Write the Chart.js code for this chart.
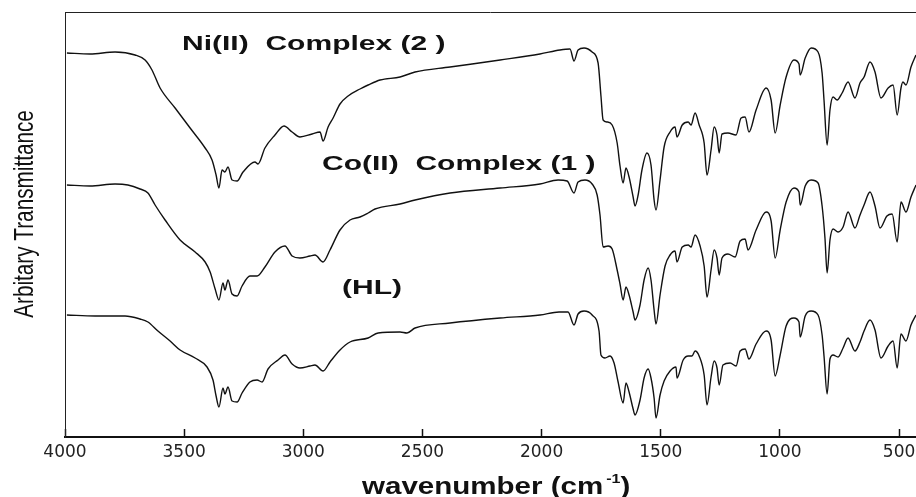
<!DOCTYPE html>
<html>
<head>
<meta charset="utf-8">
<script src="https://cdn.jsdelivr.net/npm/chart.js@4.4.1/dist/chart.umd.min.js"></script>
<style>
  html, body { margin: 0; padding: 0; background: #fff; }
  #wrap { width: 916px; height: 497px; position: relative; }
</style>
</head>
<body>
<div id="wrap"><canvas id="irChart"></canvas></div>
<script>
// x ticks (cm-1)
const tickValues = [4000, 3500, 3000, 2500, 2000, 1500, 1000, 500];
const seriesLabels = ["Ni(II)  Complex (2 )", "Co(II)  Complex (1 )", "(HL)"];

// Ni(II) complex (2) - top trace
const niWavenumber = [3992,3895,3790,3706,3664,3635,3601,3538,3475,3412,3383,3366,3354,3341,3329,3316,3299,3278,3253,3203,3190,3161,3119,3081,3047,3014,2963,2930,2917,2896,2875,2846,2812,2762,2728,2678,2594,2531,2384,2174,2007,1923,1881,1864,1847,1822,1788,1763,1751,1742,1725,1704,1683,1671,1658,1646,1633,1616,1608,1595,1579,1558,1541,1528,1520,1503,1486,1461,1440,1432,1410,1385,1373,1356,1339,1318,1306,1289,1276,1264,1255,1243,1218,1184,1163,1146,1130,1100,1058,1037,1020,999,974,941,920,915,894,869,840,823,815,802,790,777,760,739,714,685,664,647,622,601,576,546,525,508,492,484,471,450,429];
const niSignal = [384,383,385,382,377,367,349,329,309,289,277,262,249,267,265,270,257,256,265,275,273,289,302,311,305,300,303,305,296,310,319,333,341,348,352,357,360,365,370,377,383,387,388,376,387,389,385,374,341,317,315,312,294,271,254,269,260,240,231,242,267,284,272,237,227,257,290,305,310,300,312,315,312,324,312,294,262,287,310,302,284,303,304,302,319,320,305,327,349,337,304,332,360,377,373,362,379,389,385,364,337,292,327,340,337,344,355,339,354,360,375,365,339,349,352,322,349,355,352,370,382];

// Co(II) complex (1) - middle trace
const coWavenumber = [3992,3895,3790,3736,3685,3652,3622,3580,3517,3454,3412,3391,3370,3354,3337,3329,3316,3299,3278,3257,3224,3194,3161,3119,3077,3047,3014,2972,2951,2917,2888,2846,2804,2762,2728,2699,2594,2531,2384,2174,2007,1931,1893,1864,1847,1818,1788,1767,1755,1742,1721,1704,1683,1671,1658,1646,1633,1616,1608,1587,1570,1553,1541,1528,1520,1503,1482,1461,1440,1432,1410,1385,1373,1356,1335,1318,1306,1289,1276,1264,1255,1243,1218,1188,1167,1146,1134,1100,1058,1037,1020,999,974,941,920,915,894,869,840,823,811,802,790,777,756,735,714,685,664,647,622,601,580,551,529,508,492,471,450,429];
const coSignal = [252,251,253,252,248,244,232,217,197,185,175,165,148,137,154,147,157,143,141,151,161,161,170,185,191,181,179,181,182,175,187,207,217,220,224,228,233,237,244,249,253,257,256,244,255,257,253,242,222,190,191,188,167,153,137,150,142,125,117,132,157,169,157,127,113,142,171,182,186,175,190,192,190,202,191,171,140,167,187,179,162,179,183,180,196,198,187,207,225,216,179,207,235,249,245,232,251,257,254,231,199,164,197,208,205,210,225,209,222,232,245,231,209,221,223,195,235,225,240,252];

// ligand (HL) - bottom trace
const hlWavenumber = [3992,3874,3748,3685,3652,3610,3559,3517,3454,3404,3379,3366,3354,3337,3329,3316,3299,3278,3257,3224,3194,3173,3148,3106,3077,3047,3014,2972,2951,2917,2888,2846,2804,2728,2686,2594,2565,2531,2384,2174,2007,1927,1889,1864,1847,1822,1788,1759,1751,1734,1713,1696,1679,1658,1646,1633,1616,1608,1587,1570,1553,1541,1528,1520,1503,1486,1461,1436,1432,1406,1385,1369,1356,1339,1318,1306,1289,1276,1264,1255,1239,1209,1184,1167,1146,1130,1100,1058,1037,1020,999,974,941,920,915,894,869,840,823,815,802,790,777,756,735,714,685,664,647,622,601,576,546,525,508,492,471,450,429];
const hlSignal = [122,121,121,118,115,106,96,87,79,70,57,41,30,49,43,50,36,35,44,55,57,55,68,77,82,73,69,71,72,66,75,87,95,99,104,105,104,109,114,119,122,125,125,112,123,126,122,106,82,79,81,74,55,34,54,45,28,22,37,59,68,59,39,19,42,56,66,70,59,77,81,81,86,81,62,32,60,76,69,52,72,74,71,86,88,78,93,106,97,61,82,111,119,115,100,121,126,122,102,81,43,78,82,80,89,99,86,95,106,117,107,79,91,96,69,103,96,112,122];

const toPoints = (xs, ys) => xs.map((x, i) => ({ x, y: ys[i] }));

const makeTrace = (label, xs, ys) => ({
  label,
  data: toPoints(xs, ys),
  borderColor: "#111",
  borderWidth: 1.4,
  pointRadius: 0,
  fill: false,
  cubicInterpolationMode: "monotone",
});

// Draw stretched text (the original figure is squashed vertically)
const stretchedText = (ctx, text, x, y, font, sx) => {
  ctx.save();
  ctx.translate(x, y);
  ctx.scale(sx, 1);
  ctx.font = font;
  ctx.fillText(text, 0, 0);
  const w = ctx.measureText(text).width * sx;
  ctx.restore();
  return w;
};

const decorPlugin = {
  id: "decor",
  afterDraw(chart) {
    const { ctx, chartArea } = chart;
    ctx.save();
    // top frame line
    ctx.strokeStyle = "#222";
    ctx.lineWidth = 1;
    ctx.beginPath();
    ctx.moveTo(chartArea.left, chartArea.top + 0.5);
    ctx.lineTo(chartArea.right, chartArea.top + 0.5);
    ctx.stroke();

    ctx.fillStyle = "#111";
    ctx.textBaseline = "alphabetic";
    ctx.textAlign = "left";

    // trace labels
    const labelFont = "bold 21px 'Liberation Sans', Arial, sans-serif";
    stretchedText(ctx, seriesLabels[0], 182, 50, labelFont, 1.43);
    stretchedText(ctx, seriesLabels[1], 322, 170, labelFont, 1.43);
    stretchedText(ctx, seriesLabels[2], 342, 294, labelFont, 1.43);

    // x axis title with superscript
    const titleFont = "bold 24px 'Liberation Sans', Arial, sans-serif";
    let x = 362;
    x += stretchedText(ctx, "wavenumber (cm", x, 494, titleFont, 1.23);
    x += 3;
    x += stretchedText(ctx, "-1", x, 483, "bold 13px 'Liberation Sans', Arial, sans-serif", 1.23);
    stretchedText(ctx, ")", x, 494, titleFont, 1.23);

    // y axis title (narrow)
    ctx.translate(33, 214);
    ctx.rotate(-Math.PI / 2);
    ctx.scale(0.74, 1);
    ctx.textAlign = "center";
    ctx.font = "28px 'Liberation Sans', Arial, sans-serif";
    ctx.fillText("Arbitary Transmittance", 0, 0);
    ctx.restore();
  },
};

function initIrChart() {
  const canvas = document.querySelector("#irChart");
  if (!canvas || !window.Chart) return;

  new Chart(canvas, {
    type: "line",
    data: {
      datasets: [
        makeTrace(seriesLabels[0], niWavenumber, niSignal),
        makeTrace(seriesLabels[1], coWavenumber, coSignal),
        makeTrace(seriesLabels[2], hlWavenumber, hlSignal),
      ],
    },
    options: {
      responsive: true,
      maintainAspectRatio: false,
      animation: false,
      layout: { padding: { top: 12, right: 0, left: 0, bottom: 0 } },
      plugins: {
        legend: { display: false },
        tooltip: { enabled: false },
      },
      scales: {
        x: {
          type: "linear",
          reverse: true,
          min: 429,
          max: 4000,
          afterBuildTicks: (scale) => {
            scale.ticks = tickValues.map((value) => ({ value }));
          },
          afterFit: (scale) => {
            scale.height = 60;
            scale.paddingLeft = 0;
            scale.paddingRight = 0;
          },
          grid: {
            drawOnChartArea: false,
            drawTicks: true,
            tickLength: -8,
            tickWidth: 1.5,
            color: "#111",
          },
          border: { display: true, color: "#111", width: 2 },
          ticks: {
            autoSkip: false,
            maxRotation: 0,
            padding: 13,
            color: "#222",
            font: { family: "'DejaVu Sans', sans-serif", size: 17 },
            callback: (value) => String(value),
          },
        },
        y: {
          min: 0,
          max: 425,
          afterFit: (scale) => {
            scale.width = 65;
          },
          grid: { drawOnChartArea: false, drawTicks: false },
          border: { display: true, color: "#222", width: 1 },
          ticks: { display: false },
        },
      },
    },
    plugins: [decorPlugin],
  });
}

initIrChart();
</script>
</body>
</html>
